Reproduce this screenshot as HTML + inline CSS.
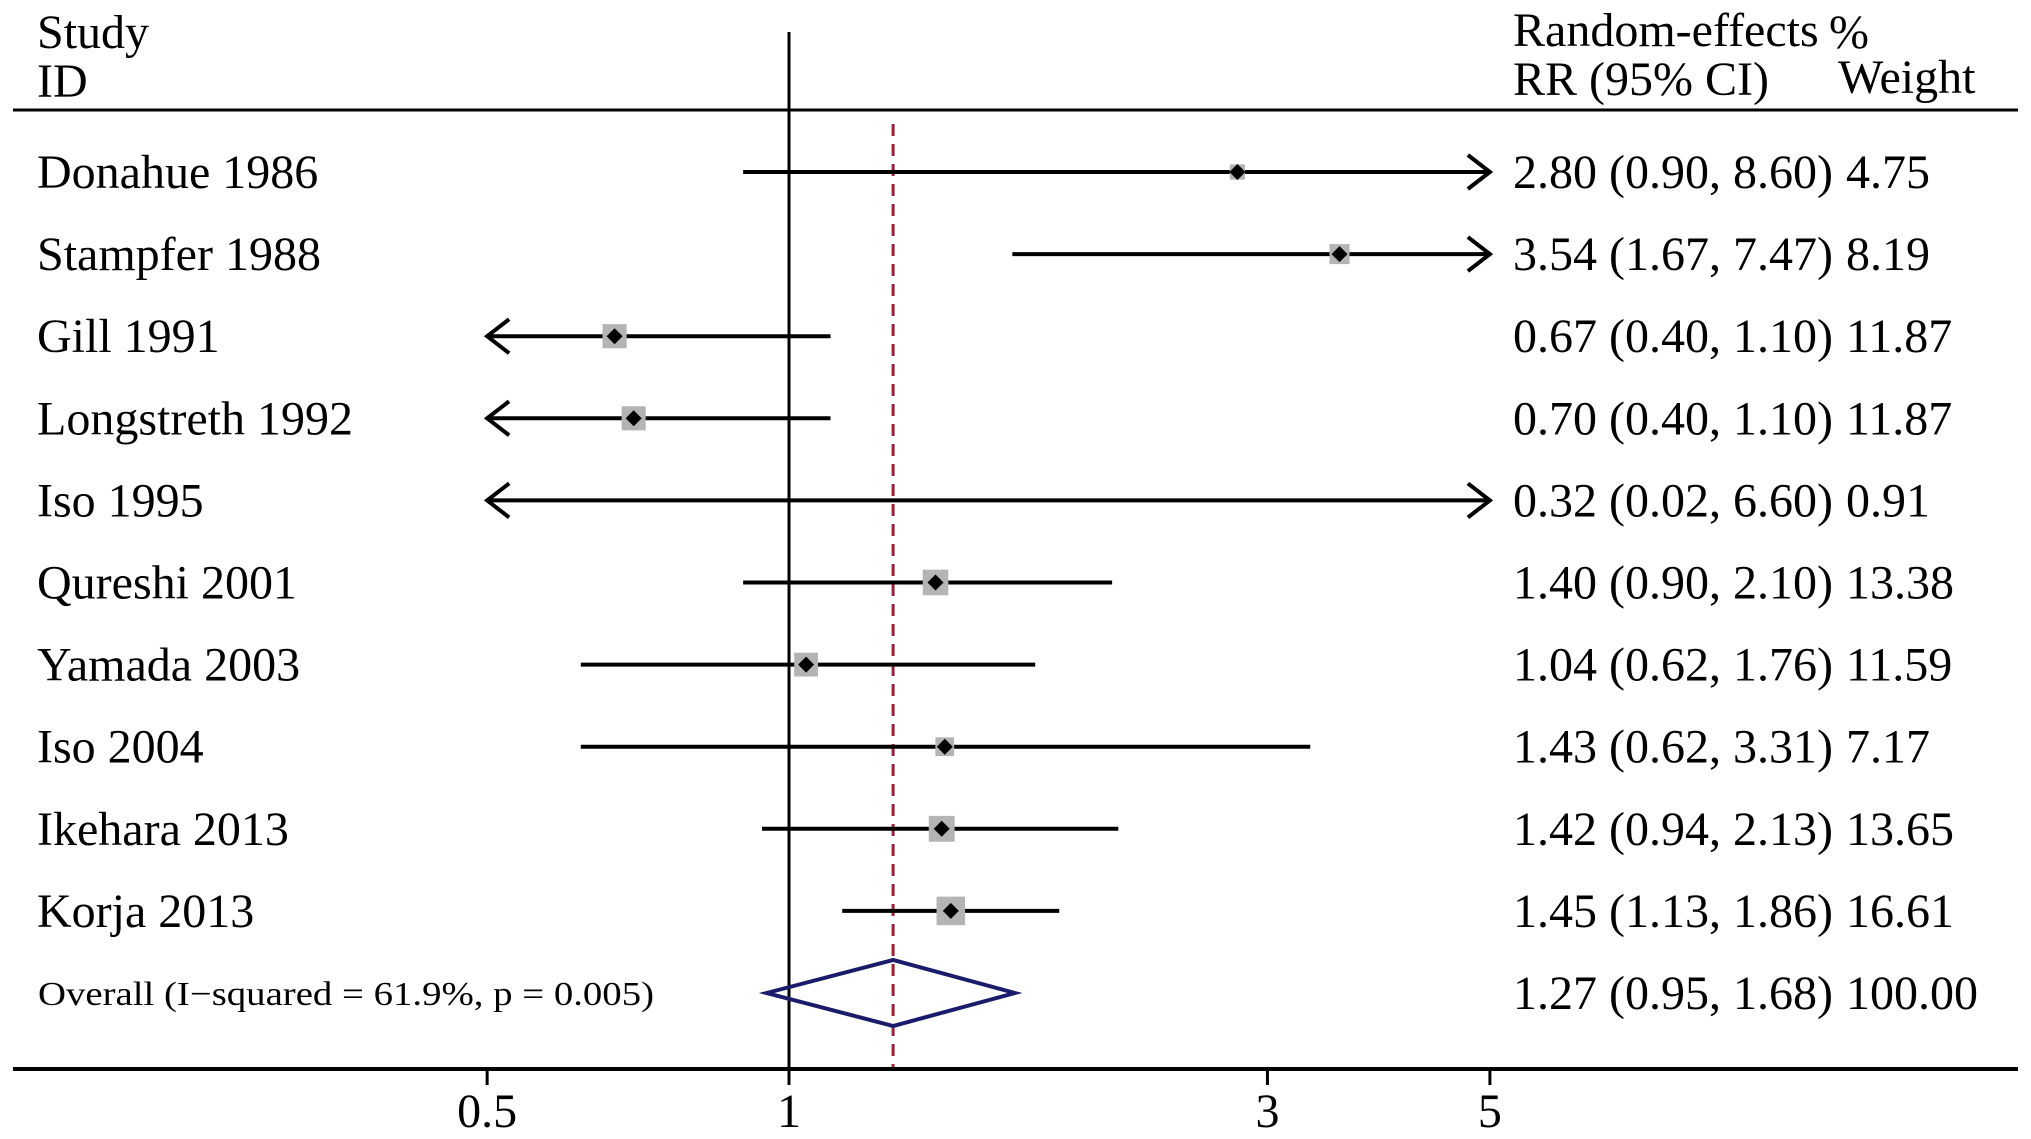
<!DOCTYPE html>
<html><head><meta charset="utf-8"><style>
html,body{margin:0;padding:0;background:#fff;}
svg{display:block;font-family:"Liberation Serif","Times New Roman",serif;}
</style></head>
<body>
<svg id="chart" width="2031" height="1139" viewBox="0 0 2031 1139" xmlns="http://www.w3.org/2000/svg">
<g font-size="48" fill="#000">
<text x="37" y="48">Study</text>
<text x="37" y="97">ID</text>
<text x="1513" y="46">Random-effects</text>
<text x="1829" y="48">%</text>
<text x="1513" y="95">RR (95% CI)</text>
<text x="1838" y="93">Weight</text>
</g>
<line x1="13" x2="2018" y1="110" y2="110" stroke="#000" stroke-width="3"/>
<g id="plot"></g>
</svg>
<script>
const studies = ["Donahue 1986","Stampfer 1988","Gill 1991","Longstreth 1992","Iso 1995","Qureshi 2001","Yamada 2003","Iso 2004","Ikehara 2013","Korja 2013"];
const rr = [2.80,3.54,0.67,0.70,0.32,1.40,1.04,1.43,1.42,1.45];
const lower = [0.90,1.67,0.40,0.40,0.02,0.90,0.62,0.62,0.94,1.13];
const upper = [8.60,7.47,1.10,1.10,6.60,2.10,1.76,3.31,2.13,1.86];
const weights = [4.75,8.19,11.87,11.87,0.91,13.38,11.59,7.17,13.65,16.61];
const overall = [1.27,0.95,1.68];
const overallWeight = "100.00";
const overallLabel = "Overall  (I\u2212squared = 61.9%, p = 0.005)";
const ticks = [0.5,1,3,5];
const tickLabels = ["0.5","1","3","5"];

const NS="http://www.w3.org/2000/svg";
const g=document.getElementById('plot');
const XMIN=0.5, XMAX=5;
function x(v){return 789+435.5*Math.log(v);}
function rowY(i){return 172+i*82.1;}
function mk(tag,attrs,parent){const e=document.createElementNS(NS,tag);for(const k in attrs)e.setAttribute(k,attrs[k]);(parent||g).appendChild(e);return e;}
function fmt(v){return v.toFixed(2);}

// null line
const nl=mk('line',{x1:x(1),x2:x(1),y1:32,y2:1069,stroke:'#000','stroke-width':3});


// overall dashed line
const dl=mk('line',{x1:x(overall[0]),x2:x(overall[0]),y1:124,y2:1069,stroke:'#9b2335','stroke-width':3,'stroke-dasharray':'12 8'});



studies.forEach((s,i)=>{
  const y=rowY(i);
  const lbl=mk('text',{x:37,y:y+16,'font-size':48});
  lbl.textContent=s;
  
  
  const lo=Math.max(lower[i],XMIN), hi=Math.min(upper[i],XMAX);
  const ci=mk('line',{x1:x(lo),x2:x(hi),y1:y,y2:y,stroke:'#000','stroke-width':4});
  
  
  if(lower[i]<XMIN){
    const a=mk('polyline',{points:`${x(XMIN)+22},${y-17} ${x(XMIN)},${y} ${x(XMIN)+22},${y+17}`,fill:'none',stroke:'#000','stroke-width':4});
    
    
  }
  if(upper[i]>XMAX){
    const a=mk('polyline',{points:`${x(XMAX)-22},${y-17} ${x(XMAX)},${y} ${x(XMAX)-22},${y+17}`,fill:'none',stroke:'#000','stroke-width':4});
    
    
  }
  const sz=7*Math.sqrt(weights[i]);
  const cx=x(rr[i]);
  if(rr[i]>=XMIN){
    const b=mk('rect',{x:cx-sz/2,y:y-sz/2,width:sz,height:sz,fill:'#b4b4b4'});
    
    
    const d=mk('polygon',{points:`${cx},${y-8} ${cx+8},${y} ${cx},${y+8} ${cx-8},${y}`,fill:'#000'});
    
    
  }
  const t=mk('text',{x:1513,y:y+16,'font-size':48});
  t.textContent=`${fmt(rr[i])} (${fmt(lower[i])}, ${fmt(upper[i])})`;
  
  
  const w=mk('text',{x:1846,y:y+16,'font-size':48});
  w.textContent=fmt(weights[i]);
  
  
});

const oy=rowY(studies.length);
const ol=mk('text',{x:38,y:oy+12,'font-size':34,textLength:616,lengthAdjust:'spacingAndGlyphs'});
ol.textContent=overallLabel;


const dm=mk('polygon',{points:`${x(overall[1])},${oy} ${x(overall[0])},${oy-33} ${x(overall[2])},${oy} ${x(overall[0])},${oy+33}`,fill:'none',stroke:'#1b1b6b','stroke-width':4});


const ot=mk('text',{x:1513,y:oy+16,'font-size':48});
ot.textContent=`${fmt(overall[0])} (${fmt(overall[1])}, ${fmt(overall[2])})`;


const ow=mk('text',{x:1846,y:oy+16,'font-size':48});
ow.textContent=overallWeight;



const ax=mk('line',{x1:13,x2:2018,y1:1069,y2:1069,stroke:'#000','stroke-width':4});


ticks.forEach((v,i)=>{
  const tk=mk('line',{x1:x(v),x2:x(v),y1:1069,y2:1085,stroke:'#000','stroke-width':3});
  
  
  const tl=mk('text',{x:x(v),y:1127,'font-size':48,'text-anchor':'middle'});
  tl.textContent=tickLabels[i];
  
  
});
</script>
</body></html>
